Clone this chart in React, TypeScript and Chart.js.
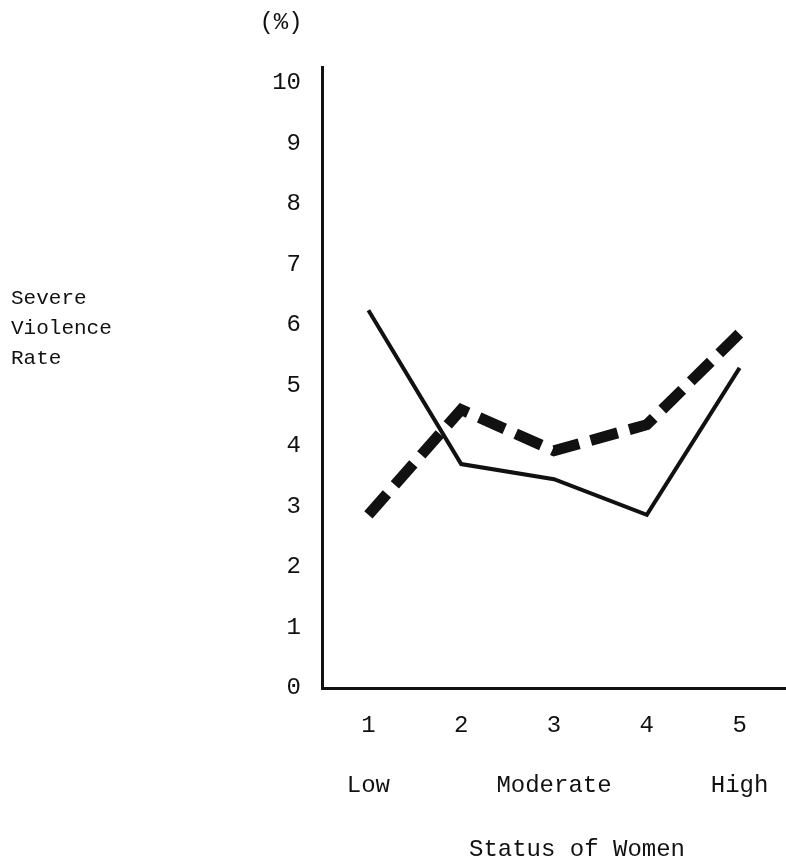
import React, { useEffect, useRef } from "react";
import { Chart, registerables } from "chart.js";

Chart.register(...registerables);

const categories = ["1", "2", "3", "4", "5"];
const statusLabels = ["Low", "", "Moderate", "", "High"];
const solidSeries = [6.24, 3.7, 3.45, 2.86, 5.29];
const dashedSeries = [2.86, 4.6, 3.92, 4.35, 5.86];
const yTickValues = [0, 1, 2, 3, 4, 5, 6, 7, 8, 9, 10];
const yUnitLabel = "(%)";
const yTitleLines = ["Severe", "Violence", "Rate"];
const xTitle = "Status of Women";

const FONT = '"Liberation Mono", "Courier New", monospace';
const INK = "#111";

const textPlugin = {
  id: "freeText",
  afterDraw(chart: any) {
    const ctx = chart.ctx;
    const area = chart.chartArea;
    ctx.save();
    ctx.fillStyle = INK;
    ctx.textBaseline = "middle";
    ctx.textAlign = "center";
    ctx.font = `24px ${FONT}`;
    ctx.fillText(yUnitLabel, area.left - 41, 23);
    ctx.textAlign = "left";
    ctx.font = `21px ${FONT}`;
    yTitleLines.forEach((t, i) => ctx.fillText(t, 11, 298 + i * 30));
    ctx.textAlign = "center";
    ctx.font = `24px ${FONT}`;
    ctx.fillText(xTitle, 577, 850);
    ctx.restore();
  },
};

export default function App() {
  const ref = useRef<HTMLCanvasElement | null>(null);
  useEffect(() => {
    if (!ref.current) return;
    const chart = new Chart(ref.current, {
      type: "line",
      data: {
        labels: categories,
        datasets: [
          {
            data: solidSeries,
            borderColor: INK,
            borderWidth: 4,
            pointRadius: 0,
            tension: 0,
            fill: false,
          },
          {
            data: dashedSeries,
            borderColor: INK,
            borderWidth: 11,
            borderDash: [28, 12],
            borderCapStyle: "butt",
            pointRadius: 0,
            tension: 0,
            fill: false,
          },
        ],
      },
      options: {
        animation: false,
        responsive: false,
        devicePixelRatio: 1,
        layout: { padding: { top: 67, bottom: 41, left: 0, right: 0 } },
        plugins: { legend: { display: false }, tooltip: { enabled: false } },
        scales: {
          x: {
            type: "category",
            offset: true,
            grid: { display: false, drawTicks: false },
            border: { display: true, color: INK, width: 3 },
            ticks: {
              color: INK,
              padding: 8,
              font: { family: FONT, size: 24, lineHeight: 2.5 },
              maxRotation: 0,
              autoSkip: false,
              callback: (_v: any, i: number) => [categories[i], statusLabels[i]],
            },
          },
          y: {
            min: 0,
            max: 10.26,
            grid: { display: false, drawTicks: false },
            border: { display: true, color: INK, width: 3 },
            afterBuildTicks: (axis: any) => {
              axis.ticks = yTickValues.map((v) => ({ value: v }));
            },
            afterFit: (axis: any) => {
              axis.width = 322;
            },
            ticks: {
              color: INK,
              padding: 21,
              font: { family: FONT, size: 24 },
              callback: (v: any) => String(v),
            },
          },
        },
      },
      plugins: [textPlugin],
    });
    return () => chart.destroy();
  }, []);
  return (
    <div style={{ position: "absolute", left: 0, top: 0, width: 786, height: 865, background: "#fff" }}>
      <canvas ref={ref} width={786} height={865} />
    </div>
  );
}
